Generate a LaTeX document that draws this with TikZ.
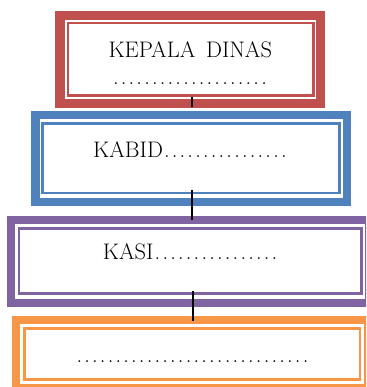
\documentclass[tikz,border=0pt]{standalone}
\usepackage{fontspec}
\setmainfont{Latin Modern Roman}
\usepackage{tikz}
\usetikzlibrary{calc}

\definecolor{kred}{HTML}{C0504D}
\definecolor{kblue}{HTML}{4F81BD}
\definecolor{kpurple}{HTML}{8064A2}
\definecolor{korange}{HTML}{F79646}

% a run of evenly spaced periods
\newcommand\dotrun[1]{\hbox to \dimexpr7.8pt*#1\relax{\xleaders\hbox to 7.8pt{\hss.\hss}\hfill}}

\tikzset{
  outerframe/.style={draw=#1, rectangle, inner sep=0pt, fill=none},
  innerframe/.style={draw=#1, rectangle, inner sep=0pt, line width=2.5pt, fill=none},
  label/.style={inner sep=0pt, anchor=base, font=\fontsize{22.5}{27}\selectfont, text=black},
  link/.style={draw=black, line width=1.7pt}
}

\begin{document}
\begin{tikzpicture}[x=1pt,y=-1pt]
  \useasboundingbox (0,0) rectangle (366,387);
  \fill[white] (0,0) rectangle (366,387);
  \clip (0,0) rectangle (366,387);

  % head of office
  \node[outerframe=kred, line width=9.5pt, minimum width=260.5pt, minimum height=87.8pt] (o1) at (190,59.65) {};
  \node[innerframe=kred, line width=2.4pt, minimum width=245.5pt, minimum height=72.7pt] (i1) at (190.55,59.15) {};
  \node[label] (t1) at (190.3,57.3) {KEPALA\hspace{4pt} DINAS};
  \node[label] (t1d) at (190,84.5) {\dotrun{20}};

  % division head
  \node[outerframe=kblue, line width=8.5pt, minimum width=311.5pt, minimum height=86.5pt] (o2) at (191,158.5) {};
  \node[innerframe=kblue, line width=2.6pt, minimum width=296.6pt, minimum height=69.7pt] (i2) at (191,158.15) {};
  \node[label] (t2) at (190.5,157.3) {KABID\dotrun{16}};

  % section head
  \node[outerframe=kpurple, line width=8pt, minimum width=358.6pt, minimum height=83.2pt] (o3) at (190,261.1) {};
  \node[innerframe=kpurple, minimum width=342.5pt, minimum height=65.2pt] (i3) at (190.05,260.9) {};
  \node[label] (t3) at (190.7,259.3) {KASI\dotrun{16}};

  % staff
  \node[outerframe=korange, line width=8pt, minimum width=352pt, minimum height=67.5pt] (o4) at (192.3,353.75) {};
  \node[innerframe=korange, minimum width=335.3pt, minimum height=50.8pt] (i4) at (192.35,354.1) {};
  \node[label] (t4) at (192.5,362) {\dotrun{30}};

  % connectors
  \draw[link] ([xshift=1.15pt]i1.south) -- ([xshift=0.7pt,yshift=4.25pt]o2.north);
  \draw[link] ([xshift=0.7pt,yshift=4pt]i2.south) -- ([xshift=1.7pt,yshift=-4.5pt]o3.north);
  \draw[link] ([xshift=3.25pt,yshift=4.2pt]i3.south) -- ([xshift=1pt,yshift=-5pt]o4.north);
\end{tikzpicture}
\end{document}
